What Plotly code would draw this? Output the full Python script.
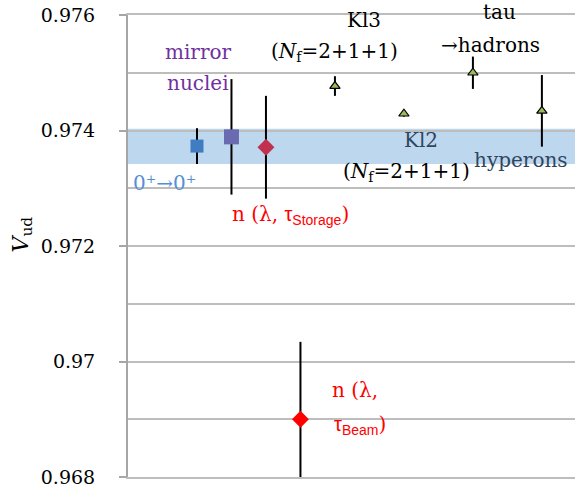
import plotly.graph_objects as go

# ---- data ----
categories = ["0+→0+", "mirror nuclei", "n (λ, τStorage)", "n (λ, τBeam)",
              "Kl3", "Kl2", "tau→hadrons", "hyperons"]
x_pos = [2, 3, 4, 5, 6, 8, 10, 12]
vud = [0.97373, 0.97389, 0.97371, 0.96900, 0.97477, 0.97429, 0.97500, 0.97434]
vud_err = [0.00031, 0.00100, 0.00089, 0.00134, 0.00017, 0.00005, 0.00028, 0.00062]
band_lo = 0.97342
band_hi = 0.97403
y_ticks = [0.968, 0.970, 0.972, 0.974, 0.976]
y_tick_labels = ["0.968", "0.97", "0.972", "0.974", "0.976"]

marker_symbols = ["square", "square", "diamond", "diamond",
                  "triangle-up", "triangle-up", "triangle-up", "triangle-up"]
marker_colors = ["#3F7CC2", "#6A6AB0", "#C0304F", "#FF0000",
                 "#9BBB59", "#9BBB59", "#9BBB59", "#9BBB59"]
marker_sizes = [13, 15, 13, 13, 9, 9, 9, 9]
marker_line_w = [0, 0, 0, 0, 1.2, 1.2, 1.2, 1.2]

SERIF = "DejaVu Serif"
SANS = "Liberation Sans"

fig = go.Figure()

fig.add_trace(go.Scatter(
    x=x_pos, y=vud, mode="markers",
    marker=dict(symbol=marker_symbols, color=marker_colors, size=marker_sizes,
                opacity=1,
                line=dict(color="black", width=marker_line_w)),
    error_y=dict(type="data", array=vud_err, visible=True,
                 color="black", thickness=2, width=0),
    text=categories, showlegend=False))

fig.add_shape(type="rect", xref="paper", yref="y", x0=0, x1=1,
              y0=band_lo, y1=band_hi, layer="between",
              fillcolor="rgba(90,155,212,0.40)", line=dict(width=0))

L, R, T, B = 128, 0, 15, 11
PLOT_W = 575 - L - R
PLOT_H = 488 - T - B

grid_col = "#BDBDBD"
fig.update_layout(
    width=575, height=488,
    margin=dict(l=L, r=R, t=T, b=B, autoexpand=False),
    plot_bgcolor="white", paper_bgcolor="white",
    font=dict(family=SERIF, size=20, color="black"),
    xaxis=dict(range=[0, 12.96], showgrid=False, zeroline=False, automargin=False,
               showticklabels=False, showline=True, mirror=True,
               linecolor=grid_col, linewidth=2, ticks=""),
    yaxis=dict(range=[0.968, 0.976], tickvals=y_ticks, ticktext=y_tick_labels,
               automargin=False, ticklabeloverflow="allow",
               showgrid=True, gridcolor=grid_col, gridwidth=2, zeroline=False,
               showline=True, linecolor="#A6A6A6", linewidth=2,
               ticks="outside", ticklen=7, tickwidth=1.5, tickcolor="#A6A6A6",
               ticklabelstandoff=20,
               tickfont=dict(family=SERIF, size=19, color="black"),
               minor=dict(dtick=0.001, tick0=0.968, showgrid=True,
                          gridcolor=grid_col, gridwidth=2, ticks="")),
)

def ann(x, y, text, color="black", size=20, yref="y"):
    fig.add_annotation(x=x, y=y, xref="x", yref=yref, text=text, showarrow=False,
                       font=dict(family=SERIF, size=size, color=color),
                       xanchor="center", yanchor="middle")

purple = "#7030A0"
blue = "#558ED5"
red = "#FF0000"
slate = "#2F4660"

ann(2.03, 0.97536, "mirror", purple)
ann(2.03, 0.97482, "nuclei", purple)
ann(1.07, 0.97309, "0⁺→0⁺", blue)
ann(4.72, 0.97254,
    "n (λ, <span style='font-family:" + SANS + "'>τ<sub>Storage</sub></span>)", red)
ann(6.85, 0.97591, "Kl3")
ann(6.0, 0.97536, "(<i>N</i><sub>f</sub>=2+1+1)")
ann(10.78, (PLOT_H + 3) / PLOT_H, "tau", yref="paper")
ann(10.52, 0.97548, "→hadrons")
ann(8.49, 0.97384, "Kl2", slate)
ann(8.06, 0.97328, "(<i>N</i><sub>f</sub>=2+1+1)")
ann(11.40, 0.97349, "hyperons", slate)
ann(6.58, 0.96951, "n (λ,", red)
ann(6.72, 0.96890,
    "<span style='font-family:" + SANS + "'>τ<sub>Beam</sub></span>)", red)

fig.add_annotation(x=(22 - L) / PLOT_W, y=0.9722, xref="paper", yref="y",
                   text="<i>V</i><sub>ud</sub>", showarrow=False, textangle=-90,
                   xanchor="center", yanchor="middle",
                   font=dict(family=SERIF, size=22, color="black"))

fig.write_html("out.html", config={"displayModeBar": False},
               post_script="document.body.style.margin='0';"
                           "document.body.style.overflow='hidden';")
